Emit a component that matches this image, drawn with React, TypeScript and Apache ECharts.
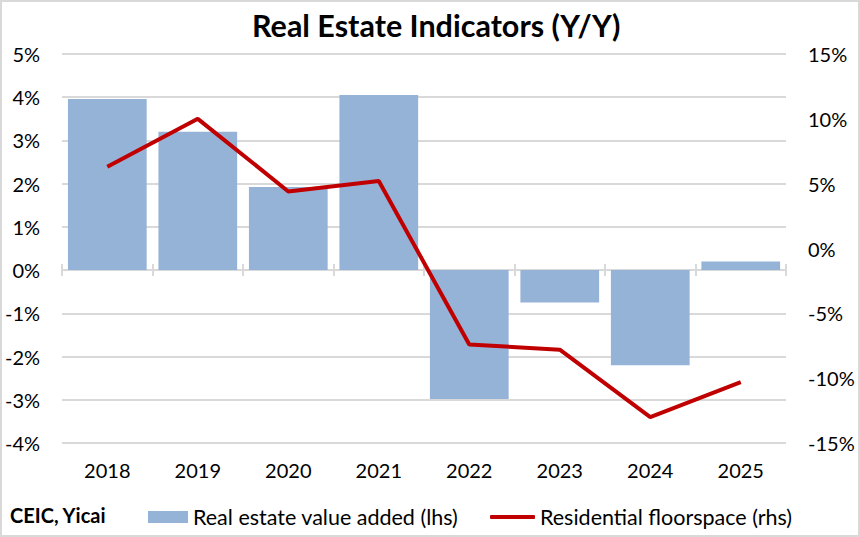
import React, { useEffect, useRef } from "react";
import * as echarts from "echarts";

const categories = ["2018", "2019", "2020", "2021", "2022", "2023", "2024", "2025"];
const valueAdded = [3.96, 3.2, 1.92, 4.05, -2.98, -0.75, -2.2, 0.2];
const floorspace = [6.3, 10.0, 4.4, 5.2, -7.4, -7.8, -13.0, -10.3];
const leftTicks = { min: -4, max: 5, interval: 1 };
const rightTicks = { min: -15, max: 15, interval: 5 };

const FONT = "Lato, 'Open Sans', sans-serif";

export default function App() {
  const ref = useRef<HTMLDivElement>(null);
  useEffect(() => {
    document.body.style.margin = "0";
    const chart = echarts.init(ref.current!, null, { renderer: "svg" });
    const catAxisBase = {
      type: "category",
      data: categories,
      gridIndex: 0,
    };
    chart.setOption({
      animation: false,
      textStyle: { fontFamily: FONT },
      title: {
        text: "Real Estate Indicators (Y/Y)",
        left: 250,
        top: 7,
        padding: 0,
        textStyle: { fontFamily: FONT, fontSize: 30.5, fontWeight: "bold", color: "#000" },
      },
      grid: { left: 59, right: 72, top: 52, bottom: 92 },
      xAxis: [
        {
          ...catAxisBase,
          position: "bottom",
          axisLine: { show: false },
          axisTick: { show: false },
          axisLabel: { fontSize: 20, color: "#000", margin: 17, fontFamily: FONT },
        },
        {
          ...catAxisBase,
          axisLine: { show: true, onZero: true, onZeroAxisIndex: 0, lineStyle: { color: "#d9d9d9", width: 2 } },
          axisTick: { show: true, inside: true, length: 6, lineStyle: { color: "#d9d9d9", width: 2 } },
          axisLabel: { show: false },
        },
        {
          ...catAxisBase,
          axisLine: { show: false, onZero: true, onZeroAxisIndex: 0 },
          axisTick: { show: true, inside: false, length: 6, lineStyle: { color: "#d9d9d9", width: 2 } },
          axisLabel: { show: false },
        },
      ],
      yAxis: [
        {
          type: "value",
          position: "left",
          ...leftTicks,
          axisLine: { show: false },
          axisTick: { show: false },
          splitLine: { show: true, lineStyle: { color: "#d9d9d9", width: 2 } },
          axisLabel: {
            fontSize: 20,
            color: "#000",
            margin: 22,
            fontFamily: FONT,
            formatter: (v: number) => `${v}%`,
          },
        },
        {
          type: "value",
          position: "right",
          ...rightTicks,
          axisLine: { show: false },
          axisTick: { show: false },
          splitLine: { show: false },
          axisLabel: {
            fontSize: 20,
            color: "#000",
            margin: 22,
            fontFamily: FONT,
            formatter: (v: number) => `${v}%`,
          },
        },
      ],
      legend: [
        {
          left: 146,
          top: 504,
          padding: 0,
          itemWidth: 40,
          itemHeight: 12,
          itemGap: 6,
          textStyle: { fontSize: 21.5, color: "#000", fontFamily: FONT },
          data: [{ name: "Real estate value added (lhs)", icon: "rect" }],
        },
        {
          left: 488,
          top: 504,
          padding: 0,
          itemWidth: 45,
          itemHeight: 4,
          itemGap: 3,
          textStyle: { fontSize: 21.5, color: "#000", fontFamily: FONT },
          data: [{ name: "Residential floorspace (rhs)", icon: "roundRect" }],
        },
      ],
      graphic: [
        {
          type: "text",
          left: 8,
          top: 503,
          style: { text: "CEIC, Yicai", fontSize: 20, fontWeight: "bold", fill: "#000", fontFamily: FONT },
        },
      ],
      series: [
        {
          name: "Real estate value added (lhs)",
          type: "bar",
          xAxisIndex: 0,
          yAxisIndex: 0,
          data: valueAdded,
          barCategoryGap: "13%",
          itemStyle: { color: "#95b3d7" },
          z: 1,
        },
        {
          name: "Residential floorspace (rhs)",
          type: "line",
          xAxisIndex: 0,
          yAxisIndex: 1,
          data: floorspace,
          symbol: "none",
          lineStyle: { color: "#c00000", width: 4 },
          itemStyle: { color: "#c00000" },
          z: 5,
        },
      ],
    });
    return () => chart.dispose();
  }, []);
  return (
    <div
      style={{
        width: 860,
        height: 537,
        border: "2px solid #d9d9d9",
        boxSizing: "border-box",
        background: "#fff",
      }}
    >
      <div ref={ref} style={{ width: 856, height: 533 }} />
    </div>
  );
}
